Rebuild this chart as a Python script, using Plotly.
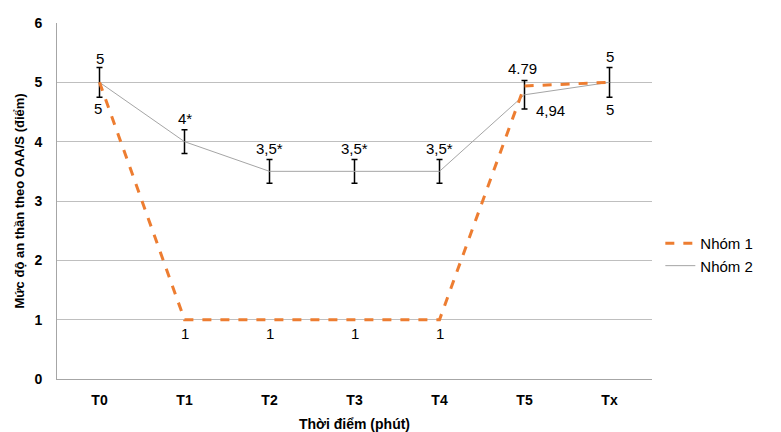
import plotly.graph_objects as go

categories = ["T0", "T1", "T2", "T3", "T4", "T5", "Tx"]
nhom1 = [5, 1, 1, 1, 1, 4.94, 5]
nhom2 = [5, 4, 3.5, 3.5, 3.5, 4.79, 5]
err2 = [0.25, 0.2, 0.2, 0.2, 0.2, 0.24, 0.25]
labels1 = ["5", "1", "1", "1", "1", "4,94", "5"]
labels2 = ["5", "4*", "3,5*", "3,5*", "3,5*", "4.79", "5"]
y_ticks = [0, 1, 2, 3, 4, 5, 6]

# label offsets (styling)
shift1 = [(-2, -26), (0, -14), (0, -14), (0, -14), (0, -14), (26, -25), (0, -27)]
shift2 = [(0, 24), (0, 23), (0, 23), (0, 23), (0, 23), (-2, 26), (0, 26)]

FONT = "Liberation Sans, Arial, sans-serif"

fig = go.Figure()
fig.add_trace(go.Scatter(
    x=categories, y=nhom2, mode="lines", name="Nhóm 2",
    line=dict(color="#A5A5A5", width=1),
    error_y=dict(type="data", array=err2, visible=True, color="#000000", thickness=1.5, width=3),
))
fig.add_trace(go.Scatter(
    x=categories, y=nhom1, mode="lines", name="Nhóm 1",
    line=dict(color="#ED7D31", width=3, dash="dash"),
))

annotations = []
for c, v, t, (dx, dy) in zip(categories, nhom1, labels1, shift1):
    annotations.append(dict(x=c, y=v, text=t, showarrow=False, xshift=dx, yshift=dy,
                            font=dict(family=FONT, size=15, color="#000000")))
for c, v, t, (dx, dy) in zip(categories, nhom2, labels2, shift2):
    annotations.append(dict(x=c, y=v, text=t, showarrow=False, xshift=dx, yshift=dy,
                            font=dict(family=FONT, size=15, color="#000000")))

fig.update_layout(
    width=773, height=424,
    margin=dict(l=49, r=129, t=15, b=53),
    paper_bgcolor="white", plot_bgcolor="white",
    font=dict(family=FONT, size=14, color="#000000"),
    annotations=annotations,
    legend=dict(x=1.014, y=0.35, xanchor="left", yanchor="middle",
                traceorder="reversed", font=dict(family=FONT, size=15, color="#000000"),
                bgcolor="rgba(0,0,0,0)", tracegroupgap=0, itemwidth=30),
    showlegend=True,
)
fig.update_xaxes(
    type="category", categoryorder="array", categoryarray=categories,
    range=[-0.5, 6.5], showgrid=False, showline=True, linecolor="#A6A6A6", linewidth=1,
    ticks="", tickfont=dict(family=FONT, size=14, color="#000000", weight="bold"),
    ticklabelstandoff=8, automargin=False,
    title=dict(text="<b>Thời điểm (phút)</b>", font=dict(family=FONT, size=14, color="#000000"), standoff=12),
    zeroline=False,
)
fig.update_yaxes(
    range=[0, 6], tickvals=y_ticks, showgrid=True, gridcolor="#BFBFBF", gridwidth=1,
    showline=True, linecolor="#A6A6A6", linewidth=1, mirror=False,
    ticks="", tickfont=dict(family=FONT, size=14, color="#000000", weight="bold"),
    ticklabelstandoff=11, automargin=False,
    title=dict(text="<b>Mức độ an thần theo OAA/S (điểm)</b>", font=dict(family=FONT, size=13, color="#000000"), standoff=6),
    zeroline=False,
)

fig.write_html("out.html")
